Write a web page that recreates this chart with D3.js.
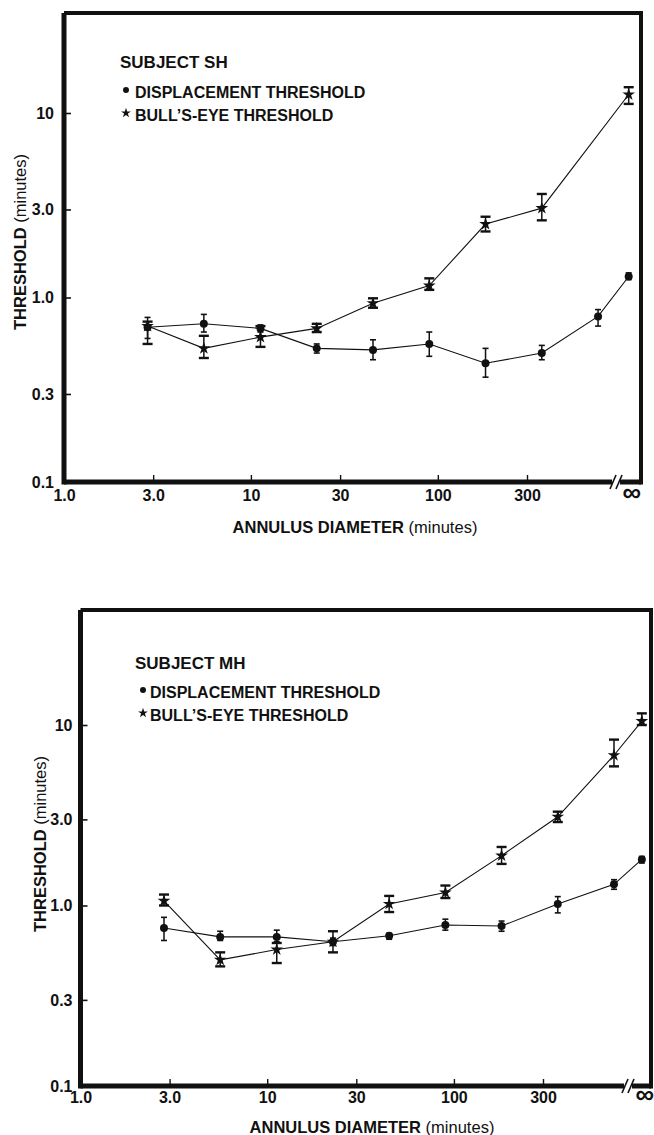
<!DOCTYPE html>
<html>
<head>
<meta charset="utf-8">
<script src="https://cdn.jsdelivr.net/npm/d3@7"></script>
<style>
html, body { margin: 0; padding: 0; background: #fff; }
svg { display: block; font-family: "Liberation Sans", Arial, sans-serif; }
</style>
</head>
<body>
<div id="chart"></div>
<script>
// annulus diameters (minutes), last one is the infinite annulus
const diameters = [2.8, 5.6, 11.25, 22.5, 45, 90, 180, 360, 720, Infinity];

const xTickValues = [1, 3, 10, 30, 100, 300];
const xTickLabels = ["1.0", "3.0", "10", "30", "100", "300"];
const yTickValues = [0.1, 0.3, 1, 3, 10];
const yTickLabels = ["0.1", "0.3", "1.0", "3.0", "10"];

// subject SH
const shDisp   = [0.69, 0.72, 0.68, 0.53, 0.52, 0.56, 0.44, 0.50, 0.79, 1.30];
const shDispLo = [0.60, 0.65, 0.65, 0.50, 0.46, 0.48, 0.37, 0.46, 0.70, 1.25];
const shDispHi = [0.78, 0.81, 0.71, 0.56, 0.59, 0.65, 0.53, 0.55, 0.86, 1.36];
const shBull   = [0.70, 0.53, 0.61, 0.68, 0.93, 1.16, 2.50, 3.05, null, 12.6];
const shBullLo = [0.56, 0.47, 0.54, 0.65, 0.88, 1.10, 2.28, 2.62, null, 11.2];
const shBullHi = [0.74, 0.62, 0.70, 0.72, 0.99, 1.27, 2.74, 3.64, null, 13.8];

// subject MH
const mhDisp   = [0.75, 0.67, 0.67, 0.63, 0.68, 0.78, 0.77, 1.02, 1.31, 1.80];
const mhDispLo = [0.64, 0.64, 0.63, 0.60, 0.65, 0.73, 0.72, 0.91, 1.23, 1.72];
const mhDispHi = [0.86, 0.72, 0.73, 0.66, 0.70, 0.84, 0.82, 1.12, 1.39, 1.87];
const mhBull   = [1.06, 0.50, 0.57, 0.63, 1.02, 1.18, 1.89, 3.10, 6.8, 10.5];
const mhBullLo = [1.00, 0.46, 0.48, 0.55, 0.92, 1.10, 1.70, 2.90, 5.9, 10.0];
const mhBullHi = [1.15, 0.55, 0.62, 0.72, 1.13, 1.29, 2.11, 3.31, 8.3, 11.6];

const W = 654, H = 1135;
const ink = "#111";

const svg = d3.select("#chart").append("svg")
	.attr("width", W)
	.attr("height", H)
	.attr("viewBox", `0 0 ${W} ${H}`);

function series(vals, lo, hi) {
	return diameters.map((d, i) => ({ d: d, v: vals[i], lo: lo[i], hi: hi[i] }))
		.filter(p => p.v != null);
}

function drawPanel(p, subject, disp, bull) {
	const g = svg.append("g");

	const x = d3.scaleLog().domain([1, 300]).range([p.left, p.x300]);
	const xPos = d => isFinite(d) ? x(d) : x(p.infAt);
	const y = d3.scaleLog().domain([0.1, 10]).range([p.bottom, p.y10]);

	// y axis, ticks point inward
	const yAxis = g.append("g")
		.attr("transform", `translate(${p.left},0)`)
		.call(d3.axisLeft(y)
			.tickValues(yTickValues)
			.tickSizeInner(-7)
			.tickSizeOuter(0)
			.tickPadding(p.yPad)
			.tickFormat((d, i) => yTickLabels[i]));
	yAxis.select(".domain").remove();
	yAxis.selectAll("line").attr("stroke", ink).attr("stroke-width", 1.6);
	yAxis.selectAll("text")
		.attr("fill", ink)
		.style("font-size", "16px")
		.style("font-weight", "bold");

	// x axis
	const xAxis = g.append("g")
		.attr("transform", `translate(0,${p.bottom})`)
		.call(d3.axisBottom(x)
			.tickValues(xTickValues)
			.tickSizeInner(-7)
			.tickSizeOuter(0)
			.tickPadding(p.xPad)
			.tickFormat((d, i) => xTickLabels[i]));
	xAxis.select(".domain").remove();
	xAxis.selectAll("line").attr("stroke", ink).attr("stroke-width", 1.4);
	xAxis.selectAll("text")
		.attr("fill", ink)
		.style("font-size", "16px")
		.style("font-weight", "bold");

	g.append("text")
		.attr("x", xPos(Infinity) + 3)
		.attr("y", p.bottom + p.xPad + 11)
		.attr("text-anchor", "middle")
		.attr("fill", ink)
		.style("font-size", "26px")
		.style("font-weight", "bold")
		.text("\u221E");

	// frame with axis break
	const frame = g.append("g")
		.attr("fill", "none")
		.attr("stroke", ink);
	frame.append("line")
		.attr("x1", p.left).attr("x2", p.left)
		.attr("y1", p.top).attr("y2", p.bottom + 2.5)
		.attr("stroke-width", 5);
	frame.append("line")
		.attr("x1", p.left).attr("x2", p.right)
		.attr("y1", p.top).attr("y2", p.top)
		.attr("stroke-width", 4);
	frame.append("line")
		.attr("x1", p.right).attr("x2", p.right)
		.attr("y1", p.top - 2).attr("y2", p.bottom + 2.5)
		.attr("stroke-width", 4);
	frame.append("line")
		.attr("x1", p.left).attr("x2", p.breakX - 4)
		.attr("y1", p.bottom).attr("y2", p.bottom)
		.attr("stroke-width", 5);
	frame.append("line")
		.attr("x1", p.breakX + 4).attr("x2", p.right)
		.attr("y1", p.bottom).attr("y2", p.bottom)
		.attr("stroke-width", 5);
	[-3, 3].forEach(o => {
		frame.append("line")
			.attr("x1", p.breakX + o - 3).attr("x2", p.breakX + o + 3)
			.attr("y1", p.bottom + 7).attr("y2", p.bottom - 7)
			.attr("stroke-width", 1.6);
	});

	// data
	const line = d3.line().x(d => xPos(d.d)).y(d => y(d.v));

	function drawSeries(data, capW, capStroke, shape, size) {
		const s = g.append("g");
		s.append("path")
			.datum(data)
			.attr("d", line)
			.attr("fill", "none")
			.attr("stroke", ink)
			.attr("stroke-width", 1.1);
		const eb = s.selectAll(".eb").data(data).enter().append("g");
		eb.append("line")
			.attr("x1", d => xPos(d.d)).attr("x2", d => xPos(d.d))
			.attr("y1", d => y(d.lo)).attr("y2", d => y(d.hi))
			.attr("stroke", ink).attr("stroke-width", 1.5);
		["lo", "hi"].forEach(k => {
			eb.append("line")
				.attr("x1", d => xPos(d.d) - capW).attr("x2", d => xPos(d.d) + capW)
				.attr("y1", d => y(d[k])).attr("y2", d => y(d[k]))
				.attr("stroke", ink).attr("stroke-width", capStroke);
		});
		s.selectAll(".mk").data(data).enter().append("path")
			.attr("transform", d => `translate(${xPos(d.d)},${y(d.v)})`)
			.attr("d", d3.symbol().type(shape).size(size))
			.attr("fill", ink);
	}

	drawSeries(disp, 3, 1.6, d3.symbolCircle, 50);
	drawSeries(bull, 5, 2.4, d3.symbolStar, 50);

	// legend
	const lg = g.append("g").attr("fill", ink);
	lg.append("text")
		.attr("x", p.legX).attr("y", p.legY)
		.attr("dy", "0.35em")
		.style("font-size", "17px")
		.style("font-weight", "bold")
		.text("SUBJECT " + subject);
	const items = [
		{ label: "DISPLACEMENT THRESHOLD", shape: d3.symbolCircle, size: 28, dy: p.legGap1 },
		{ label: "BULL\u2019S-EYE THRESHOLD", shape: d3.symbolStar, size: 30, dy: p.legGap1 + p.legGap2 }
	];
	items.forEach(it => {
		lg.append("path")
			.attr("transform", `translate(${p.legX + p.markOff},${p.legY + it.dy - 2})`)
			.attr("d", d3.symbol().type(it.shape).size(it.size));
		lg.append("text")
			.attr("x", p.legX + p.textOff).attr("y", p.legY + it.dy)
			.attr("dy", "0.35em")
			.style("font-size", "16px")
			.style("font-weight", "bold")
			.text(it.label);
	});

	// axis titles
	const xt = g.append("text")
		.attr("x", p.xTitleX).attr("y", p.xTitleY)
		.attr("dy", "0.35em")
		.attr("text-anchor", "middle")
		.attr("fill", ink)
		.style("font-size", "16.5px");
	xt.append("tspan").style("font-weight", "bold").text("ANNULUS DIAMETER ");
	xt.append("tspan").text(" (minutes)");

	const yt = g.append("text")
		.attr("transform", `translate(${p.yTitleX},${p.yTitleY}) rotate(-90)`)
		.attr("dy", "0.35em")
		.attr("text-anchor", "middle")
		.attr("fill", ink)
		.style("font-size", "16.5px");
	yt.append("tspan").style("font-weight", "bold").text("THRESHOLD ");
	yt.append("tspan").text("(minutes)");
}

drawPanel({
	left: 64, top: 13, right: 641, bottom: 482,
	x300: 527, y10: 113, infAt: 1050, breakX: 616,
	yPad: 10, xPad: 8,
	legX: 120, legY: 62, legGap1: 30, legGap2: 23, markOff: 6, textOff: 15,
	xTitleX: 355, xTitleY: 527, yTitleX: 20, yTitleY: 242
}, "SH", series(shDisp, shDispLo, shDispHi), series(shBull, shBullLo, shBullHi));

drawPanel({
	left: 80.5, top: 610, right: 651, bottom: 1086,
	x300: 543, y10: 725, infAt: 1015, breakX: 628,
	yPad: 8, xPad: 6,
	legX: 135, legY: 663, legGap1: 29, legGap2: 23, markOff: 8, textOff: 15,
	xTitleX: 372, xTitleY: 1127, yTitleX: 40, yTitleY: 844
}, "MH", series(mhDisp, mhDispLo, mhDispHi), series(mhBull, mhBullLo, mhBullHi));
</script>
</body>
</html>
